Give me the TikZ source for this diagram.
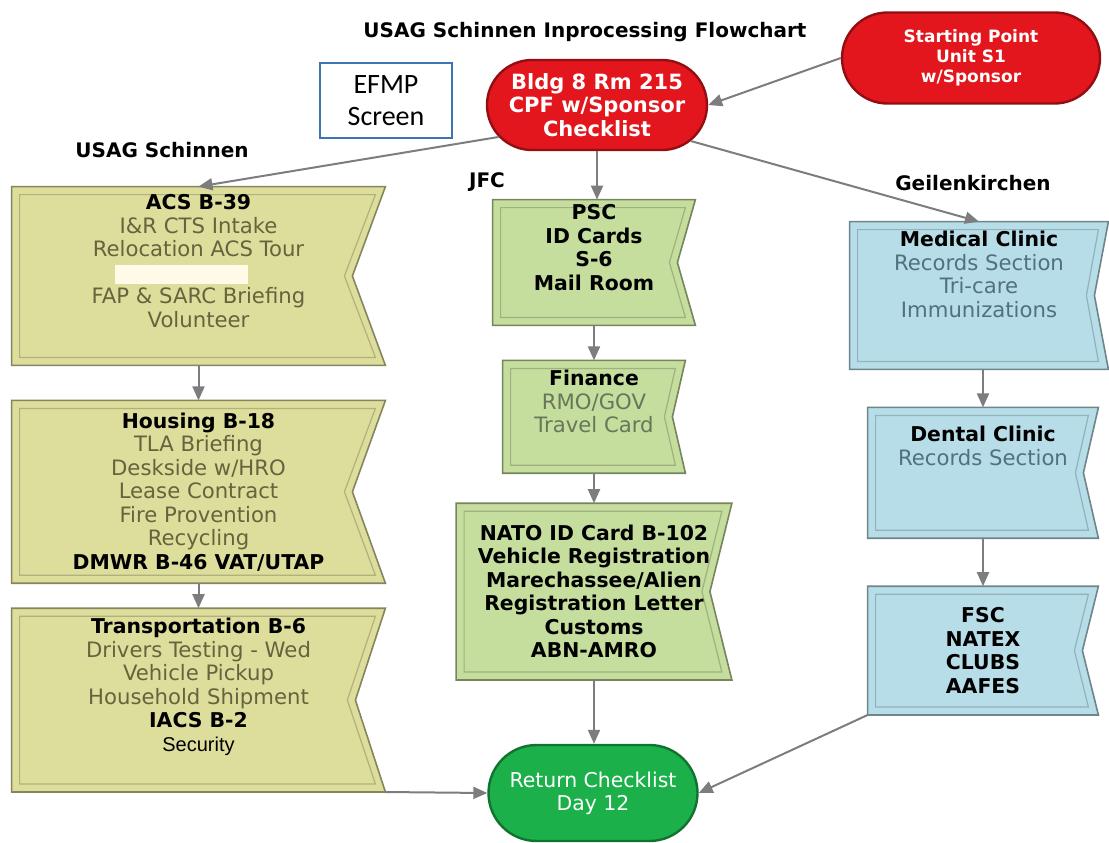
\documentclass[tikz,border=0pt]{standalone}
\usepackage{fontspec}
\setmainfont{DejaVu Sans}
\newfontfamily\arialfont{Liberation Sans}
\newfontfamily\calibrifont{Carlito}
\usetikzlibrary{shapes.misc, positioning, calc, backgrounds, arrows.meta}

\definecolor{khaki}{RGB}{221,221,156}
\definecolor{khakitext}{RGB}{100,100,62}
\definecolor{sage}{RGB}{197,221,157}
\definecolor{sagetext}{RGB}{105,118,90}
\definecolor{sky}{RGB}{183,222,232}
\definecolor{skytext}{RGB}{82,112,126}
\definecolor{startred}{RGB}{226,22,28}
\definecolor{returngreen}{RGB}{28,176,74}
\definecolor{efmpblue}{RGB}{62,116,180}
\definecolor{arrowgray}{RGB}{125,125,125}

\newcommand{\khakisub}[1]{\textcolor{khakitext}{#1}}
\newcommand{\sagesub}[1]{\textcolor{sagetext}{#1}}
\newcommand{\skysub}[1]{\textcolor{skytext}{#1}}
\newcommand{\hd}[1]{{\fontsize{10.2}{11.75}\selectfont\bfseries #1}}

\tikzset{
  stepbox/.style={rectangle, inner sep=0pt, align=center, font=\fontsize{10.6}{11.75}\selectfont},
  boldbox/.style={stepbox, font=\fontsize{10.2}{11.75}\selectfont\bfseries},
  terminal/.style={rounded rectangle, draw=#1!65!black, fill=#1, line width=1.2pt, inner sep=0pt, align=center, text=white},
  heading/.style={font=\fontsize{10}{12}\selectfont\bfseries},
  link/.style={draw=arrowgray, line width=1pt, -{Triangle[length=7pt, width=6pt]}}
}

\begin{document}
\begin{tikzpicture}[x=0.5pt, y=-0.5pt]
    \useasboundingbox (0,0) rectangle (1109,842);  % page size of the reference
    % Headings
    \node (title) [heading] at (585,32) {USAG Schinnen Inprocessing Flowchart};
    \node (schinnenlbl) [heading] at (162,150) {USAG Schinnen};
    \node (jfclbl) [heading] at (487,182) {JFC};
    \node (geilenlbl) [heading] at (973,183) {Geilenkirchen};

    % Start and end
    \node (start) [terminal=startred, minimum width=129pt, minimum height=45.5pt, font=\fontsize{8.5}{10}\selectfont\bfseries] at (971,58) {Starting Point\\ Unit S1\\ w/Sponsor};
    \node (bldg) [terminal=startred, minimum width=110pt, minimum height=45pt, font=\fontsize{10.5}{11.75}\selectfont\bfseries] at (597,105) {Bldg 8 Rm 215\\ CPF w/Sponsor\\ Checklist};
    \node (efmp) [draw=efmpblue, line width=1.2pt, fill=white, minimum width=66pt, minimum height=37.5pt, align=center, font=\calibrifont\fontsize{14}{16}\selectfont] at (386,100.5) {EFMP\\ Screen};
    \node (returnlist) [terminal=returngreen, minimum width=104.5pt, minimum height=48pt, font=\fontsize{10.2}{11.5}\selectfont] at (593,793) {Return Checklist\\ Day 12};

    % USAG Schinnen column
    \node (acs) [stepbox, minimum width=186.5pt, minimum height=89pt] at (198.5,276) {\hd{ACS B-39}\\ \khakisub{I\&R CTS Intake}\\ \khakisub{Relocation ACS Tour}\\ \strut\\ \khakisub{FAP \& SARC Briefing}\\ \khakisub{Volunteer}\\ \strut};
    \node (acsmask) [fill={rgb,255:red,255;green,251;blue,232}, minimum width=66.5pt, minimum height=9.5pt, inner sep=0pt] at (181.5,274.5) {};
    \node (housing) [stepbox, minimum width=186.5pt, minimum height=91pt, below=17.5pt of acs] {\hd{Housing B-18}\\ \khakisub{TLA Briefing}\\ \khakisub{Deskside w/HRO}\\ \khakisub{Lease Contract}\\ \khakisub{Fire Provention}\\ \khakisub{Recycling}\\ \hd{DMWR B-46 VAT/UTAP}};
    \node (transport) [stepbox, minimum width=186.5pt, minimum height=91.5pt, below=12.5pt of housing] {\hd{Transportation B-6}\\ \khakisub{Drivers Testing - Wed}\\ \khakisub{Vehicle Pickup}\\ \khakisub{Household Shipment}\\ \hd{IACS B-2}\\ {\arialfont\fontsize{10}{11.75}\selectfont Security}\\ \strut};

    % JFC column
    \node (psc) [boldbox, minimum width=101pt, minimum height=62.5pt] at (594,262.5) {PSC\\ ID Cards\\ S-6\\ Mail Room\\ \strut};
    \node (finance) [stepbox, minimum width=91pt, minimum height=56pt, below=17.5pt of psc] {\hd{Finance}\\ \sagesub{RMO/GOV}\\ \sagesub{Travel Card}\\ \strut};
    \node (nato) [boldbox, minimum width=137.5pt, minimum height=88pt, below=15pt of finance] {NATO ID Card B-102\\ Vehicle Registration\\ Marechassee/Alien\\ Registration Letter\\ Customs\\ ABN-AMRO};

    % Geilenkirchen column
    \node (medical) [stepbox, minimum width=129pt, minimum height=73.5pt] at (979,295.5) {\hd{Medical Clinic}\\ \skysub{Records Section}\\ \skysub{Tri-care}\\ \skysub{Immunizations}\\ \strut\\[-6pt] \strut};
    \node (dental) [stepbox, minimum width=115pt, minimum height=65pt, below=19pt of medical, xshift=2pt] {\hd{Dental Clinic}\\ \skysub{Records Section}\\ \strut\\ \strut};
    \node (fsc) [boldbox, minimum width=115pt, minimum height=64pt, below=24pt of dental] {FSC\\ NATEX\\ CLUBS\\ AAFES};

    % Flag outlines behind the text
    \begin{scope}[on background layer]
        \foreach \n/\d/\c in {acs/33/khaki, housing/33/khaki, transport/30/khaki, psc/18/sage, finance/13/sage, nato/22/sage, medical/14/sky, dental/15/sky, fsc/16/sky} {
            \filldraw [fill=\c, draw=\c!60!black, line width=0.8pt] (\n.north west) -- (\n.north east) -- ($(\n.east)+(-\d,0)$) -- (\n.south east) -- (\n.south west) -- cycle;
            \draw [\c!80!black, line width=0.6pt] ($(\n.north west)+(8,8)$) -- ($(\n.north east)+(-10,8)$) -- ($(\n.east)+(-\d-8,0)$) -- ($(\n.south east)+(-10,-8)$) -- ($(\n.south west)+(8,-8)$) -- cycle;
        }
    \end{scope}

    % Arrows
    \draw [link] (start.west) -- (bldg.east);
    \draw [link] (bldg.198) -- (acs.north);
    \draw [link] (bldg.south) -- (bldg.south |- psc.north);
    \draw [link] (bldg.339) -- (medical.north);
    \draw [link] (acs) -- (housing);
    \draw [link] (housing) -- (transport);
    \draw [link] (psc) -- (finance);
    \draw [link] (finance) -- (nato);
    \draw [link] (nato.south) -- (nato.south |- returnlist.north);
    \draw [link] (dental.north |- medical.south) -- (dental.north);
    \draw [link] (dental) -- (fsc);
    \draw [link] (transport.south east) -- (returnlist.west);
    \draw [link] (fsc.south west) -- (returnlist.east);
\end{tikzpicture}
\end{document}
